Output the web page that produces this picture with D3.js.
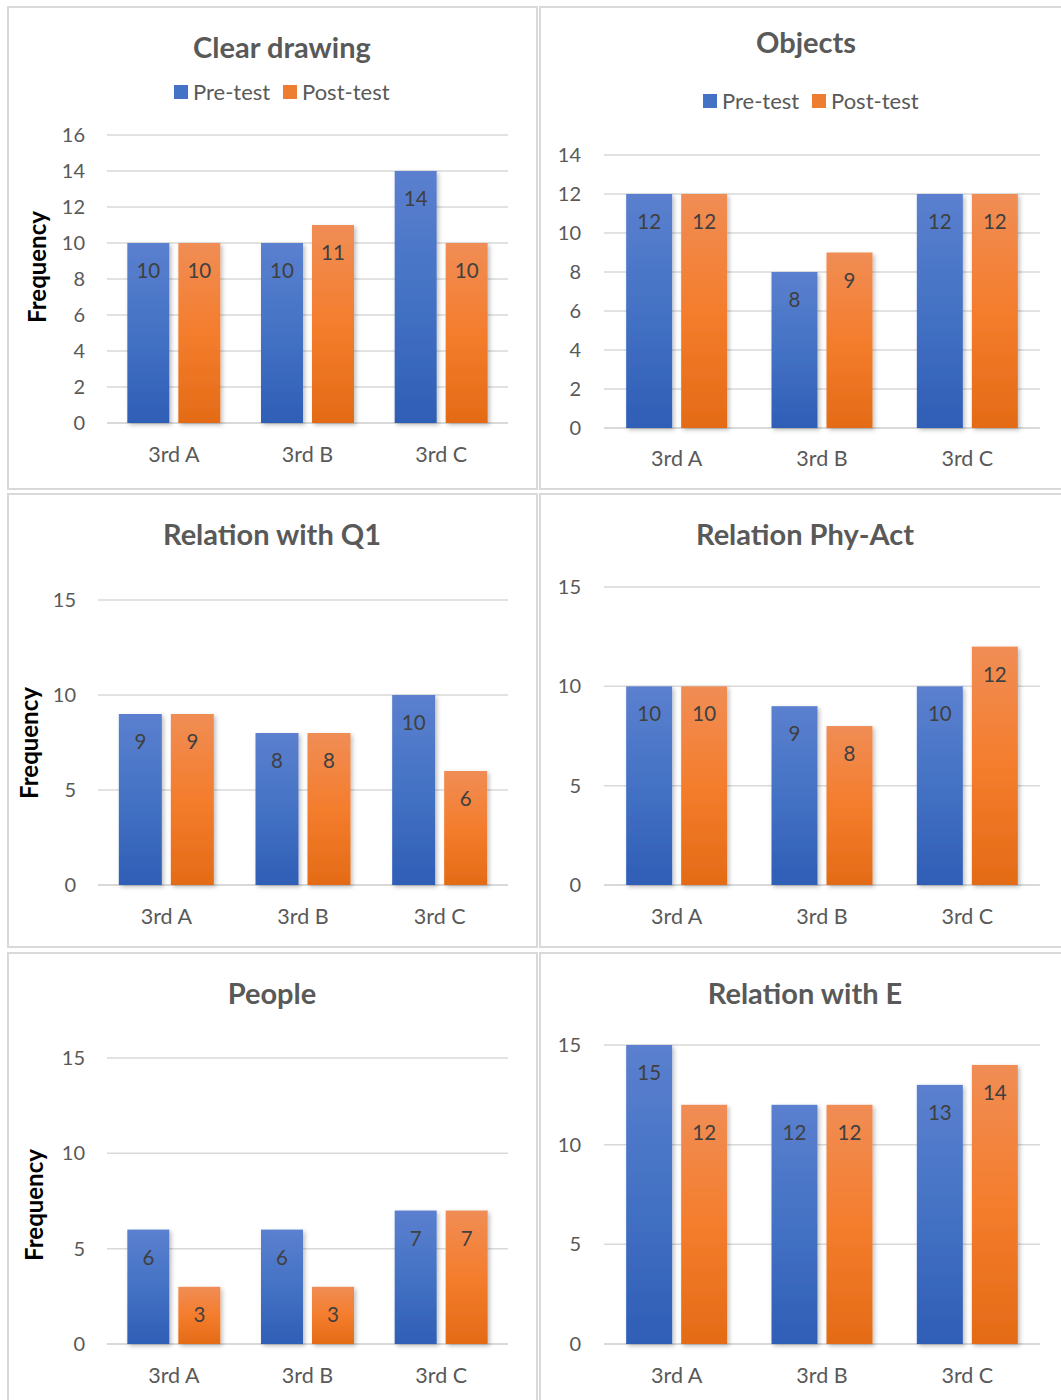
<!DOCTYPE html>
<html><head><meta charset="utf-8">
<script src="https://cdn.jsdelivr.net/npm/d3@7"></script>
<style>body{margin:0;background:#fff}svg{display:block}text{font-family:Lato,"Open Sans",sans-serif}</style>
</head><body>
<script>
const categories = ["3rd A", "3rd B", "3rd C"];
const seriesNames = ["Pre-test", "Post-test"];
const chartTitles = ["Clear drawing", "Objects", "Relation with Q1", "Relation Phy-Act", "People", "Relation with E"];
const preTest  = [[10, 10, 14], [12, 8, 12], [9, 8, 10], [10, 9, 10], [6, 6, 7], [15, 12, 13]];
const postTest = [[10, 11, 10], [12, 9, 12], [9, 8, 6], [10, 8, 12], [3, 3, 7], [12, 12, 14]];
const yTicks = [
  [0, 2, 4, 6, 8, 10, 12, 14, 16],
  [0, 2, 4, 6, 8, 10, 12, 14],
  [0, 5, 10, 15],
  [0, 5, 10, 15],
  [0, 5, 10, 15],
  [0, 5, 10, 15]
];
const yAxisTitle = "Frequency";

// layout (positions only)
const layout = [
  {box:[8,7,529,482], title:[282,58], legend:{y:93, x:174}, x0:107, x1:508, yTop:135, yBot:423, barW:42, gap:9, tickX:85, catY:462, ylab:[38,267]},
  {box:[540,7,530,482], title:[806,53], legend:{y:102, x:703}, x0:604, x1:1040, yTop:155, yBot:428, barW:46, gap:9, tickX:581, catY:466, ylab:null},
  {box:[8,494,529,453], title:[272,545], legend:null, x0:98, x1:508, yTop:600, yBot:885, barW:43, gap:9, tickX:76, catY:924, ylab:[30,743]},
  {box:[540,494,530,453], title:[805,545], legend:null, x0:604, x1:1040, yTop:587, yBot:885, barW:46, gap:9, tickX:581, catY:924, ylab:null},
  {box:[8,953,529,460], title:[272,1004], legend:null, x0:107, x1:508, yTop:1058, yBot:1344, barW:42, gap:9, tickX:85, catY:1383, ylab:[35,1205]},
  {box:[540,953,530,460], title:[805,1004], legend:null, x0:604, x1:1040, yTop:1045, yBot:1344, barW:46, gap:9, tickX:581, catY:1383, ylab:null}
];

const svg = d3.select("body").append("svg").attr("width", 1061).attr("height", 1400);
const defs = svg.append("defs");
function grad(id, c0, c1, c2) {
  const g = defs.append("linearGradient").attr("id", id).attr("x1", 0).attr("y1", 0).attr("x2", 0).attr("y2", 1);
  g.append("stop").attr("offset", "0%").attr("stop-color", c0);
  g.append("stop").attr("offset", "50%").attr("stop-color", c1);
  g.append("stop").attr("offset", "100%").attr("stop-color", c2);
}
grad("gBlue", "#5b80cf", "#4472c4", "#2f5eb6");
grad("gOrange", "#f08d55", "#f47d2d", "#e46b16");
const f = defs.append("filter").attr("id", "shadow").attr("x", "-20%").attr("y", "-10%").attr("width", "150%").attr("height", "130%");
f.append("feDropShadow").attr("dx", 2).attr("dy", 2).attr("stdDeviation", 2).attr("flood-color", "#000").attr("flood-opacity", 0.25);
const fills = ["url(#gBlue)", "url(#gOrange)"];
const legendColors = ["#4472c4", "#ed7d31"];

layout.forEach((L, i) => {
  const g = svg.append("g");
  g.append("rect").attr("x", L.box[0]).attr("y", L.box[1]).attr("width", L.box[2]).attr("height", L.box[3])
    .attr("fill", "#fff").attr("stroke", "#d9d9d9").attr("stroke-width", 2);

  g.append("text").attr("x", L.title[0]).attr("y", L.title[1]).attr("text-anchor", "middle")
    .attr("font-size", 29).attr("font-weight", "bold").attr("fill", "#595959").text(chartTitles[i]);

  if (L.legend) {
    const lg = g.append("g").attr("transform", `translate(${L.legend.x},${L.legend.y})`);
    let xo = 0;
    seriesNames.forEach((s, k) => {
      lg.append("rect").attr("x", xo).attr("y", -8).attr("width", 14).attr("height", 14).attr("fill", legendColors[k]);
      lg.append("text").attr("x", xo + 19).attr("y", 7).attr("font-size", 22).attr("fill", "#595959").text(s);
      xo += 109;
    });
  }

  const ticks = yTicks[i];
  const y = d3.scaleLinear().domain([0, d3.max(ticks)]).range([L.yBot, L.yTop]);
  const x = d3.scaleBand().domain(categories).range([L.x0, L.x1]);

  // gridlines
  g.append("g").selectAll("line").data(ticks).join("line")
    .attr("x1", L.x0).attr("x2", L.x1).attr("y1", d => y(d)).attr("y2", d => y(d))
    .attr("stroke", "#d9d9d9").attr("stroke-width", d => d === 0 ? 2 : 1.5);

  // tick labels
  g.append("g").selectAll("text").data(ticks).join("text")
    .attr("x", L.tickX).attr("y", d => y(d) + 7).attr("text-anchor", "end")
    .attr("font-size", 20).attr("fill", "#595959").text(d => d);

  // category labels
  g.append("g").selectAll("text").data(categories).join("text")
    .attr("x", d => x(d) + x.bandwidth() / 2).attr("y", L.catY).attr("text-anchor", "middle")
    .attr("font-size", 21.5).attr("fill", "#595959").text(d => d);

  // bars
  const series = [preTest[i], postTest[i]];
  series.forEach((vals, k) => {
    const bars = g.append("g");
    const off = k === 0 ? -(L.gap / 2 + L.barW) : L.gap / 2;
    bars.selectAll("rect").data(vals).join("rect")
      .attr("x", (d, j) => x(categories[j]) + x.bandwidth() / 2 + off)
      .attr("y", d => y(d)).attr("width", L.barW).attr("height", d => L.yBot - y(d))
      .attr("fill", fills[k]).attr("filter", "url(#shadow)");
    bars.selectAll("text").data(vals).join("text")
      .attr("x", (d, j) => x(categories[j]) + x.bandwidth() / 2 + off + L.barW / 2)
      .attr("y", d => y(d) + 35).attr("text-anchor", "middle")
      .attr("font-size", 20.5).attr("fill", "#404040").text(d => d);
  });

  if (L.ylab) {
    g.append("text").attr("transform", `translate(${L.ylab[0] + 8},${L.ylab[1]}) rotate(-90)`)
      .attr("text-anchor", "middle").attr("font-size", 24).attr("font-weight", "bold").attr("fill", "#000").text(yAxisTitle);
  }
});
</script>
</body></html>
